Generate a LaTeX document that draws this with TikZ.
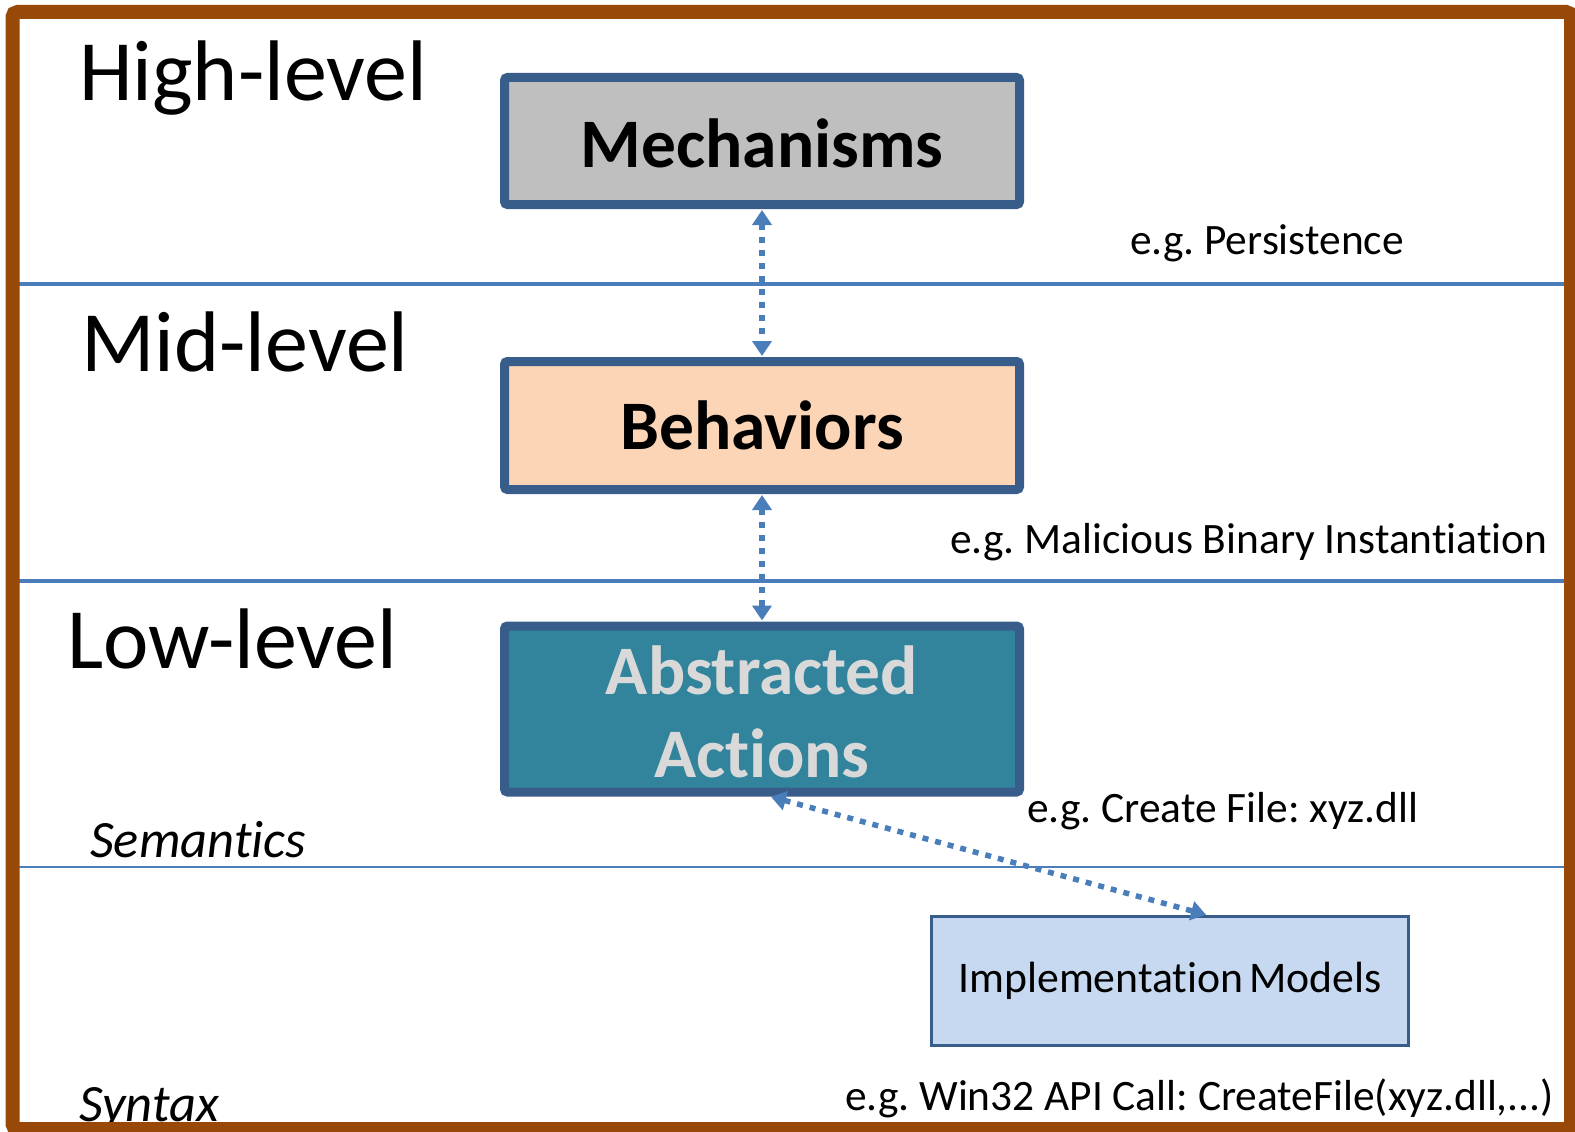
\documentclass[tikz,border=0pt]{standalone}
\usepackage{fontspec}
\setmainfont{Carlito}[Ligatures=NoCommon]
\usetikzlibrary{arrows.meta}
\frenchspacing

\definecolor{framebrown}{HTML}{984807}
\definecolor{rulerblue}{HTML}{4A7EBB}
\definecolor{boxedge}{HTML}{385D8A}
\definecolor{mechfill}{HTML}{BFBFBF}
\definecolor{behfill}{HTML}{FBD5B5}
\definecolor{actfill}{HTML}{31849B}
\definecolor{actfont}{HTML}{D9D9D9}
\definecolor{implfill}{HTML}{C6D9F1}

% lower a box's ink while keeping its measured extent
\newcommand{\dropby}[2]{\raisebox{-#1}[\height][\depth]{#2}}

\tikzset{
  levelbox/.style={draw=boxedge, line width=9pt, rounded corners=3pt,
    minimum width=515pt, inner sep=0pt, outer sep=4.5pt, align=center,
    font=\fontsize{69.5}{83}\selectfont\bfseries},
  implbox/.style={draw=boxedge, line width=3pt, fill=implfill,
    minimum width=477pt, minimum height=129pt, inner sep=0pt, outer sep=1.5pt,
    font=\fontsize{43.7}{50}\selectfont},
  levelname/.style={anchor=base west, inner sep=0pt, font=\fontsize{86}{92}\selectfont},
  sidename/.style={anchor=base west, inner sep=0pt, font=\fontsize{52.5}{58}\selectfont\itshape},
  example/.style={anchor=base west, inner sep=0pt, font=\fontsize{43.4}{50}\selectfont},
  divider/.style={draw=rulerblue, line width=#1},
  linkarrow/.style={draw=rulerblue, line width=5.5pt, dash pattern=on 6pt off 7pt,
    {Triangle[width=19pt,length=15pt]}-{Triangle[width=19pt,length=15pt]}, shorten <=1pt, shorten >=1pt}
}

\begin{document}
\begin{tikzpicture}[x=1pt, y=-1pt]
  \useasboundingbox (0,0) rectangle (1575,1132);
  \fill[white] (0,0) rectangle (1575,1132);

  % level dividers
  \coordinate (d1l) at (19,284);   \coordinate (d1r) at (1564,284);
  \coordinate (d2l) at (19,581);   \coordinate (d2r) at (1564,581);
  \coordinate (d3l) at (19,867);   \coordinate (d3r) at (1564,867);
  \draw[divider=4.5pt] (d1l) -- (d1r);
  \draw[divider=4.5pt] (d2l) -- (d2r);
  \draw[divider=2.5pt] (d3l) -- (d3r);

  % level names
  \node[levelname] (high) at (79,100) {High-level};
  \node[levelname] (mid)  at (81,371) {Mid-level};
  \node[levelname] (low)  at (67,668) {Low-level};
  \node[sidename] (sem) at (90,857) {Semantics};
  \node[sidename] (syn) at (79,1121) {Syntax};

  % abstraction boxes
  \node[levelbox, fill=mechfill, minimum height=127pt] (mech) at (762,141) {\dropby{2pt}{Mechanisms}};
  \node[levelbox, fill=behfill, minimum height=128pt] (beh) at (762,425.5) {Behaviors};
  \node[levelbox, fill=actfill, text=actfont, minimum height=153pt] (act) at (762,709)
    {\dropby{10pt}{\begin{tabular}{@{}c@{}}Abstracted\\Actions\end{tabular}}};
  \node[implbox] (impl) at (1170,981) {Implementation\hspace{-4pt} Models};

  % examples
  \node[example] (ex1) at (1130,254) {e.g. Persistence};
  \node[example] (ex2) at (950,553) {e.g. Malicious Binary Instantiation};
  \node[example] (ex3) at (1027,822) {e.g. Create File: xyz.dll};
  \node[example] (ex4) at (845,1110) {e.g. Win32 API Call: CreateFile(xyz.dll,...)};

  % links between levels
  \draw[linkarrow] (mech.south) -- (beh.north);
  \draw[linkarrow] (beh.south) -- (act.north);
  \draw[linkarrow] ([xshift=8pt]act.south) -- ([xshift=37pt]impl.north);

  % outer frame
  \draw[framebrown, line width=14pt, rounded corners=5pt] (12.5,12) rectangle (1571,1129);
\end{tikzpicture}
\end{document}
